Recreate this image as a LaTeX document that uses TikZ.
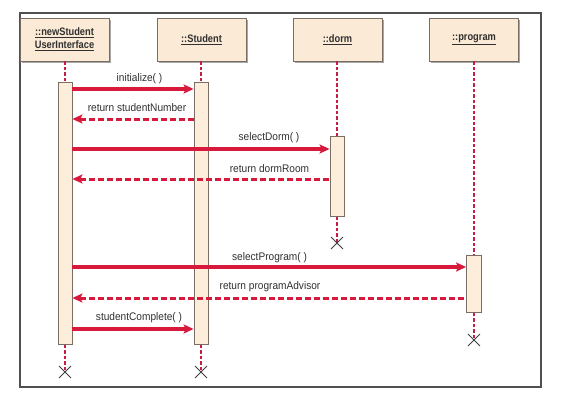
\documentclass[tikz,border=0pt]{standalone}
\usepackage{fontspec}
\setmainfont{Liberation Sans}[FakeStretch=0.92]
\newfontfamily\hdfont{Liberation Sans}[FakeStretch=0.86]
\usetikzlibrary{arrows.meta,shapes.misc,shadows}
\definecolor{msgred}{HTML}{D7193C}
\definecolor{lifered}{HTML}{C41E45}
\definecolor{boxfill}{HTML}{FBEAD5}
\definecolor{barfill}{HTML}{FDEEDC}
\definecolor{boxline}{HTML}{7A6E64}
\definecolor{framegray}{HTML}{505050}
\definecolor{txt}{HTML}{303030}
\tikzset{
  hdbox/.style={draw=boxline, line width=0.9pt, fill=boxfill, minimum width=89pt, minimum height=43pt,
    inner sep=0pt, align=center, font=\hdfont\bfseries\fontsize{10.8}{13}\selectfont, text=txt,
    drop shadow={shadow xshift=1.6pt, shadow yshift=-1.6pt, fill=black, opacity=0.35}},
  actbar/.style={draw=boxline, line width=0.8pt, fill=barfill, minimum width=14pt, inner sep=0pt, anchor=north},
  life/.style={draw=lifered, line width=2.1pt, dash pattern=on 3.5pt off 2pt},
  call/.style={draw=msgred, line width=3.2pt, -{Stealth[length=10pt,width=9pt,inset=2pt]}},
  reply/.style={draw=msgred, line width=3pt, dash pattern=on 6pt off 3pt, {Stealth[length=10pt,width=9pt,inset=2pt]}-},
  msglbl/.style={font=\fontsize{11}{12}\selectfont, text=txt, inner sep=0pt},
  endmark/.style={cross out, draw=black!75, line width=0.9pt, minimum size=11pt, inner sep=0pt},
}
\begin{document}
\begin{tikzpicture}[x=1pt,y=-1pt]
\useasboundingbox (0,0) rectangle (585,405);
\fill[white] (0,0) rectangle (585,405);
\draw[framegray, line width=1.2pt] (20,13) rectangle (541,387);

% header boxes
\node[hdbox] (b1) at (64.5,39.5) {\underline{::newStudent}\\\underline{UserInterface}};
\node[hdbox] (b2) at (201.5,39.5) {\underline{::Student}};
\node[hdbox] (b3) at (337.5,39.5) {\underline{::dorm}};
\node[hdbox] (b4) at (474,39.5) {\underline{::program}};

% activation bars
\node[actbar, minimum height=262pt] (a1) at (65,82) {};
\node[actbar, minimum height=262pt] (a2) at (201,82) {};
\node[actbar, minimum height=80pt] (a3) at (337,136) {};
\node[actbar, minimum height=57pt, minimum width=15pt] (a4) at (474,255) {};

% destruction marks (positions)
\coordinate (x1) at (65,372);
\coordinate (x2) at (201,372);
\coordinate (x3) at (337,243);
\coordinate (x4) at (474,340);

% lifelines
\draw[life] (b1.south -| a1.north) -- (a1.north);
\draw[life] (b2.south -| a2.north) -- (a2.north);
\draw[life] (b3.south -| a3.north) -- (a3.north);
\draw[life] (b4.south -| a4.north) -- (a4.north);
\draw[life] (a1.south) -- (x1);
\draw[life] (a2.south) -- (x2);
\draw[life] (a3.south) -- (x3);
\draw[life] (a4.south) -- (x4);
\node[endmark] (e1) at (x1) {};
\node[endmark] (e2) at (x2) {};
\node[endmark] (e3) at (x3) {};
\node[endmark] (e4) at (x4) {};

% message rows
\coordinate (r1) at (0,89);
\coordinate (r2) at (0,119);
\coordinate (r3) at (0,149);
\coordinate (r4) at (0,179);
\coordinate (r5) at (0,267);
\coordinate (r6) at (0,298);
\coordinate (r7) at (0,329);

\draw[call] (a1.east |- r1) -- (a2.west |- r1);
\draw[reply] (a1.east |- r2) -- (a2.west |- r2);
\draw[call] (a1.east |- r3) -- (a3.west |- r3);
\draw[reply] (a1.east |- r4) -- (a3.west |- r4);
\draw[call] (a1.east |- r5) -- (a4.west |- r5);
\draw[reply] (a1.east |- r6) -- (a4.west |- r6);
\draw[call] (a1.east |- r7) -- (a2.west |- r7);

% labels
\node[msglbl] (l1) at (139.5,79) {initialize( )};
\node[msglbl] (l2) at (137,108) {return studentNumber};
\node[msglbl] (l3) at (269,138) {selectDorm( )};
\node[msglbl] (l4) at (269.5,169) {return dormRoom};
\node[msglbl] (l5) at (269.5,258) {selectProgram( )};
\node[msglbl] (l6) at (270,287) {return programAdvisor};
\node[msglbl] (l7) at (139,318) {studentComplete( )};
\end{tikzpicture}
\end{document}
